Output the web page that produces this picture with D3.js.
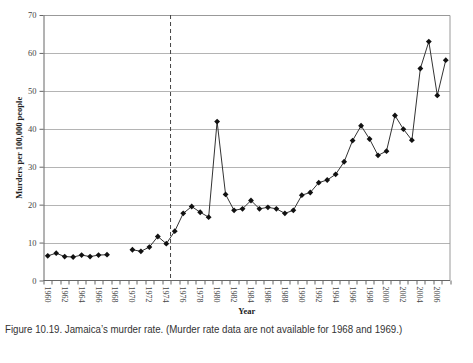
<!DOCTYPE html>
<html>
<head>
<meta charset="utf-8">
<script src="https://cdn.jsdelivr.net/npm/d3@7"></script>
<style>
  body { margin: 0; background: #fff; }
  .tick text { font-family: "Liberation Serif", "DejaVu Serif", serif; fill: #444; }
</style>
</head>
<body>
<svg width="473" height="363"></svg>
<script>
// years 1960-2007, murders per 100,000 (no data for 1968, 1969)
var years = d3.range(1960, 2008);
var rates = [6.5, 7.2, 6.3, 6.2, 6.7, 6.3, 6.7, 6.8, null, null,
  8.1, 7.7, 8.8, 11.6, 9.7, 13.0, 17.7, 19.5, 18.0, 16.7,
  41.9, 22.7, 18.5, 18.9, 21.1, 18.9, 19.3, 18.9, 17.7, 18.5,
  22.5, 23.2, 25.8, 26.5, 28.0, 31.3, 36.9, 40.8, 37.3, 33.0,
  34.1, 43.5, 39.9, 37.0, 55.9, 63.0, 48.8, 58.1];
var yTicks = [0, 10, 20, 30, 40, 50, 60, 70];
var markerYear = 1974;

var margin = {top: 15, left: 43.5, right: 23, bottom: 82.5};
var width = 473 - margin.left - margin.right,
    height = 363 - margin.top - margin.bottom;

var svg = d3.select("svg");

var g = svg.append("g")
  .attr("transform", "translate(" + margin.left + "," + margin.top + ")");

var x = d3.scaleBand().domain(years).range([0, width]);
var y = d3.scaleLinear().domain([0, 70]).range([height, 0]);

// gridlines
g.selectAll(".grid")
  .data(yTicks.slice(1, -1))
  .enter()
  .append("line")
  .attr("x1", 0).attr("x2", width)
  .attr("y1", function(d) { return Math.round(y(d)) + 0.5; })
  .attr("y2", function(d) { return Math.round(y(d)) + 0.5; })
  .attr("stroke", "#b4b4b4");

// frame top / right
g.append("path")
  .attr("d", "M0,0.5H" + width + "V" + height)
  .attr("fill", "none")
  .attr("stroke", "#999");

// y axis
var yAxis = g.append("g")
  .call(d3.axisLeft(y).tickValues(yTicks).tickSize(4).tickPadding(3).tickSizeOuter(0));
yAxis.select(".domain").attr("stroke", "#666");
yAxis.selectAll(".tick line").attr("stroke", "#666");
yAxis.selectAll(".tick text").style("font-size", "8.5px");

// x axis: ticks on category boundaries, labels every 2 years
var xAxis = g.append("g")
  .attr("transform", "translate(0," + height + ")");
xAxis.append("line")
  .attr("x1", 0).attr("x2", width)
  .attr("stroke", "#666");
xAxis.selectAll(".xtick")
  .data(years.concat([2008]))
  .enter()
  .append("line")
  .attr("x1", function(d, i) { return Math.round(i * x.bandwidth()) + 0.5; })
  .attr("x2", function(d, i) { return Math.round(i * x.bandwidth()) + 0.5; })
  .attr("y1", 0).attr("y2", 4)
  .attr("stroke", "#666");
xAxis.selectAll(".xlab")
  .data(years.filter(function(d) { return d % 2 == 0; }))
  .enter()
  .append("text")
  .attr("transform", function(d) {
    return "translate(" + (x(d) + x.bandwidth() / 2 - 3) + ",6) rotate(90)";
  })
  .attr("font-family", "Liberation Serif, serif")
  .attr("font-size", "8px")
  .attr("fill", "#444")
  .text(function(d) { return d; });

// dashed marker line after 1974
var xm = x(markerYear) + x.bandwidth();
g.append("line")
  .attr("x1", xm).attr("x2", xm)
  .attr("y1", 0).attr("y2", height)
  .attr("stroke", "#444")
  .attr("stroke-dasharray", "4,3");

// data line
var pts = years.map(function(d, i) { return {year: d, v: rates[i]}; });
var line = d3.line()
  .defined(function(d) { return d.v != null; })
  .x(function(d) { return x(d.year) + x.bandwidth() / 2; })
  .y(function(d) { return y(d.v); });

g.append("path")
  .datum(pts)
  .attr("d", line)
  .attr("fill", "none")
  .attr("stroke", "#333")
  .attr("stroke-width", 1);

// square markers turned 45 degrees
g.selectAll(".pt")
  .data(pts.filter(function(d) { return d.v != null; }))
  .enter()
  .append("path")
  .attr("d", d3.symbol().type(d3.symbolSquare).size(17))
  .attr("transform", function(d) {
    return "translate(" + (x(d.year) + x.bandwidth() / 2) + "," + y(d.v) + ") rotate(45)";
  })
  .attr("fill", "#111");

// axis titles
svg.append("text")
  .attr("transform", "translate(22," + (margin.top + height / 2) + ") rotate(-90)")
  .attr("text-anchor", "middle")
  .attr("font-family", "Liberation Serif, serif")
  .attr("font-weight", "bold")
  .attr("font-size", "8.5px")
  .attr("fill", "#222")
  .text("Murders per 100,000 people");

svg.append("text")
  .attr("x", margin.left + width / 2)
  .attr("y", 314)
  .attr("text-anchor", "middle")
  .attr("font-family", "Liberation Serif, serif")
  .attr("font-weight", "bold")
  .attr("font-size", "8.5px")
  .attr("fill", "#222")
  .text("Year");

// caption, squeezed horizontally to look condensed
var caption = svg.append("text")
  .attr("font-family", "Liberation Sans, sans-serif")
  .attr("font-size", "11.5px")
  .attr("fill", "#333")
  .text("Figure 10.19. Jamaica\u2019s murder rate. (Murder rate data are not available for 1968 and 1969.)");
var sx = 398 / caption.node().getComputedTextLength();
caption.attr("transform", "translate(5,333) scale(" + sx + ",1)");
</script>
</body>
</html>
